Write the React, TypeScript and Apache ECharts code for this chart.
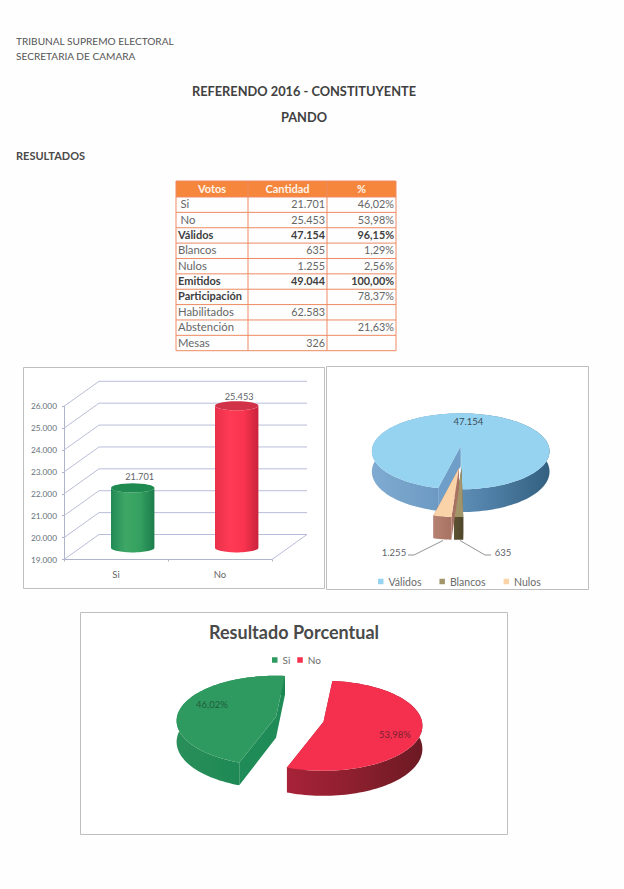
import React, { useEffect, useRef } from "react";
import * as echarts from "echarts";

const FONT = "Lato";

// ---- table data
const tableHeader = ["Votos", "Cantidad", "%"];
const tableLabels = ["Si", "No", "Válidos", "Blancos", "Nulos", "Emitidos", "Participación", "Habilitados", "Abstención", "Mesas"];
const tableCounts = ["21.701", "25.453", "47.154", "635", "1.255", "49.044", "", "62.583", "", "326"];
const tablePercents = ["46,02%", "53,98%", "96,15%", "1,29%", "2,56%", "100,00%", "78,37%", "", "21,63%", ""];
const boldLabels = ["Válidos", "Emitidos", "Participación"];
const boldNumbers = ["Válidos", "Emitidos"];

// ---- bar chart data
const barCategories = ["Si", "No"];
const barValues = [21701, 25453];
const barTicks = [19000, 20000, 21000, 22000, 23000, 24000, 25000, 26000];

// ---- vote pie data
const voteNames = ["Válidos", "Blancos", "Nulos"];
const voteValues = [47154, 635, 1255];

// ---- percent pie data
const resultNames = ["Si", "No"];
const resultPercents = [46.02, 53.98];

const dotted = (v: number) => String(v).replace(/\B(?=(\d{3})+$)/g, ".");

type Face = { cx: number; cy: number; rx: number; ry: number; p: number; depth: number };
type Paint = { top: string; wall: string[]; radial: string };

const pt = (f: Face, deg: number): [number, number] => {
  const r = (deg * Math.PI) / 180;
  const k = 1 - f.p * Math.cos(r);
  return [f.cx + f.rx * Math.sin(r) * k, f.cy - f.ry * Math.cos(r) * k];
};
const down = (f: Face, deg: number, q: [number, number]): [number, number] => {
  const r = (deg * Math.PI) / 180;
  return [q[0], q[1] + f.depth * (1 - f.p * Math.cos(r))];
};

function sliceShapes(f: Face, start: number, sweep: number, paint: Paint) {
  const steps = Math.max(6, Math.ceil(sweep / 2));
  const angles: number[] = [];
  for (let i = 0; i <= steps; i++) angles.push(start + (sweep * i) / steps);
  const rim = angles.map((a) => pt(f, a));
  const rimLow = angles.map((a, i) => down(f, a, rim[i]));
  const apex: [number, number] = [f.cx, f.cy];
  const apexLow: [number, number] = [f.cx, f.cy + f.depth];
  const wallFill = new echarts.graphic.LinearGradient(
    0, 0, 1, 0,
    paint.wall.map((c, i) => ({ offset: i / (paint.wall.length - 1), color: c }))
  );
  const poly = (points: number[][], fill: any) => ({
    type: "polygon",
    shape: { points },
    style: { fill, stroke: "none" },
  });
  return [
    poly([apex, rim[0], rimLow[0], apexLow], paint.radial),
    poly([apex, rim[steps], rimLow[steps], apexLow], paint.radial),
    poly([...rim, ...rimLow.slice().reverse()], wallFill),
    poly([apex, ...rim], paint.top),
  ];
}

function pieSeries(
  name: string,
  value: number,
  face: Face,
  start: number,
  sweep: number,
  paint: Paint,
  extras: any[]
) {
  return {
    type: "custom",
    name,
    coordinateSystem: "none",
    silent: true,
    itemStyle: { color: paint.top },
    data: [[value]],
    renderItem: () => ({
      type: "group",
      children: [...sliceShapes(face, start, sweep, paint), ...extras],
    }),
  };
}

const label = (text: string, x: number, y: number, fill: string, size: number, align = "center") => ({
  type: "text",
  x,
  y,
  style: { text, fill, font: `${size}px ${FONT}`, align, verticalAlign: "middle" },
});

function cylinderRender(colors: { side: string[]; top: string }, labelDx: number, labelDy: number) {
  return (_params: any, api: any) => {
    const value = api.value(1);
    const idx = api.value(0);
    const depthX = 16.7;
    const depthY = -12.5;
    const halfW = 21.7;
    const ry = 4.6;
    const topC = api.coord([idx, value]);
    const baseC = api.coord([idx, barTicks[0]]);
    const cx = topC[0] + depthX;
    const ty = topC[1] + depthY;
    const by = baseC[1] + depthY + 0.8;
    const arc = (yc: number, from: number, to: number) => {
      const out: number[][] = [];
      for (let i = 0; i <= 32; i++) {
        const a = ((from + ((to - from) * i) / 32) * Math.PI) / 180;
        out.push([cx + halfW * Math.cos(a), yc + ry * Math.sin(a)]);
      }
      return out;
    };
    const sideFill = new echarts.graphic.LinearGradient(
      0, 0, 1, 0,
      colors.side.map((c, i) => ({ offset: i / (colors.side.length - 1), color: c }))
    );
    return {
      type: "group",
      children: [
        {
          type: "polygon",
          shape: { points: [...arc(ty, 180, 0), ...arc(by, 0, 180)] },
          style: { fill: sideFill },
        },
        { type: "polygon", shape: { points: arc(ty, 0, 360) }, style: { fill: colors.top } },
        {
          type: "text",
          x: cx + labelDx,
          y: ty + labelDy,
          style: {
            text: dotted(value),
            fill: "#5f6368",
            font: `9.2px ${FONT}`,
            align: "center",
            verticalAlign: "middle",
          },
        },
      ],
    };
  };
}

function buildGraphic() {
  const els: any[] = [];
  const pageText = (text: string, x: number, y: number, size: number, weight: string, fill: string, align = "left") =>
    els.push({
      type: "text",
      x,
      y,
      style: { text, fill, font: `${weight} ${size}px ${FONT}`, align, verticalAlign: "middle" },
    });
  pageText("TRIBUNAL SUPREMO ELECTORAL", 16, 41, 10.1, "normal", "#555");
  pageText("SECRETARIA DE CAMARA", 16, 56, 10.1, "normal", "#555");
  pageText("REFERENDO 2016 - CONSTITUYENTE", 304, 91, 12.8, "bold", "#404040", "center");
  pageText("PANDO", 304, 117, 12.8, "bold", "#404040", "center");
  pageText("RESULTADOS", 16, 155, 11, "bold", "#4a4a4a");

  const frame = (x: number, y: number, w: number, h: number) =>
    els.push({
      type: "rect",
      shape: { x, y, width: w, height: h },
      style: { fill: "#fff", stroke: "#bfbfbf", lineWidth: 1 },
      z: -10,
    });
  frame(23.5, 367.5, 301, 221);
  frame(326.5, 366.5, 262, 223);
  frame(80.5, 612.5, 427, 222);

  // table
  const cols = [176, 248, 327, 396];
  const top = 181;
  const headBottom = 197;
  const rowH = 15.37;
  const bottom = headBottom + rowH * tableLabels.length;
  els.push({
    type: "rect",
    shape: { x: cols[0], y: top, width: cols[3] - cols[0], height: headBottom - top },
    style: { fill: "#f5863c" },
  });
  const rule = "#ee8a62";
  cols.forEach((x) =>
    els.push({ type: "line", shape: { x1: x, y1: top, x2: x, y2: bottom }, style: { stroke: rule, lineWidth: 1 } })
  );
  els.push({ type: "line", shape: { x1: cols[0], y1: top, x2: cols[3], y2: top }, style: { stroke: rule, lineWidth: 1 } });
  for (let i = 0; i <= tableLabels.length; i++) {
    const y = headBottom + rowH * i;
    els.push({ type: "line", shape: { x1: cols[0], y1: y, x2: cols[3], y2: y }, style: { stroke: rule, lineWidth: 1 } });
  }
  tableHeader.forEach((h, i) =>
    pageText(h, (cols[i] + cols[i + 1]) / 2, (top + headBottom) / 2 - 1, 11, "bold", "#fff4ea", "center")
  );
  tableLabels.forEach((name, i) => {
    const y = headBottom + rowH * (i + 0.5) - 1;
    const boldLabel = boldLabels.includes(name);
    const boldNumber = boldNumbers.includes(name);
    pageText(name, i < 2 ? 180.5 : 178, y, boldLabel ? 11 : 11.3, boldLabel ? "bold" : "normal", boldLabel ? "#3f3f3f" : "#666");
    const w = boldNumber ? "bold" : "normal";
    const c = boldNumber ? "#3f3f3f" : "#666";
    if (tableCounts[i]) pageText(tableCounts[i], 325, y, 10.8, w, c, "right");
    if (tablePercents[i]) pageText(tablePercents[i], 394, y, 10.8, w, c, "right");
  });
  pageText("Resultado Porcentual", 294, 632, 18, "bold", "#4a4a4a", "center");
  return els;
}

export default function App() {
  const ref = useRef<HTMLDivElement>(null);
  useEffect(() => {
    document.body.style.margin = "0";
    const chart = echarts.init(ref.current!, undefined, { renderer: "svg" });

    // vote pie
    const voteTotal = voteValues.reduce((a, b) => a + b, 0);
    const voteStart = 193;
    const voteSweeps = voteValues.map((v) => (v / voteTotal) * 360);
    const voteFaces: Face[] = [
      { cx: 460.7, cy: 446, rx: 88, ry: 38, p: 0.14, depth: 20 },
      { cx: 461.5, cy: 468, rx: 100, ry: 43, p: 0.14, depth: 20 },
      { cx: 459, cy: 468, rx: 100, ry: 43, p: 0.14, depth: 20 },
    ];
    const votePaints: Paint[] = [
      { top: "#95d3f0", wall: ["#7fabd2", "#6f9cc4", "#4f7fa6", "#33607f"], radial: "#6f9fc9" },
      { top: "#a2956a", wall: ["#5d5233", "#4f462b"], radial: "#4f462b" },
      { top: "#fbd3a9", wall: ["#b58272", "#a87262"], radial: "#a87262" },
    ];
    const voteExtras: any[][] = [
      [label(dotted(voteValues[0]), 468.3, 421, "#3c4c58", 9.5)],
      [
        { type: "polyline", shape: { points: [[491, 555], [485, 555], [460, 540.5]] }, style: { stroke: "#777", fill: "none", lineWidth: 0.8 } },
        label(dotted(voteValues[1]), 503, 552, "#5f6368", 9.5),
      ],
      [
        { type: "polyline", shape: { points: [[408, 555], [414, 555], [443, 540.5]] }, style: { stroke: "#777", fill: "none", lineWidth: 0.8 } },
        label(dotted(voteValues[2]), 394, 552, "#5f6368", 9.5),
      ],
    ];
    let voteAngle = voteStart;
    const voteSeries = voteNames.map((n, i) => {
      const s = pieSeries(n, voteValues[i], voteFaces[i], voteAngle, voteSweeps[i], votePaints[i], voteExtras[i]);
      voteAngle += voteSweeps[i];
      return s;
    });

    // percent pie
    const resultTotal = resultPercents.reduce((a, b) => a + b, 0);
    const resultFaces: Face[] = [
      { cx: 276, cy: 716.7, rx: 99, ry: 45, p: 0.09, depth: 21 },
      { cx: 323.5, cy: 721.7, rx: 98.5, ry: 45, p: 0.09, depth: 23 },
    ];
    const resultPaints: Paint[] = [
      { top: "#2f9a60", wall: ["#2a8f5a", "#1f8a55", "#1a8550"], radial: "#1f8b56" },
      { top: "#f5304e", wall: ["#a82238", "#8c1f2e", "#6c1a24"], radial: "#a82238" },
    ];
    const pct = (v: number) => v.toFixed(2).replace(".", ",") + "%";
    const resultExtras: any[][] = [
      [label(pct(resultPercents[0]), 212, 704, "#1f5c3e", 9.5)],
      [label(pct(resultPercents[1]), 395, 734, "#7a2030", 9.5)],
    ];
    let resultAngle = 200;
    const resultSeries = resultNames.map((n, i) => {
      const sweep = (resultPercents[i] / resultTotal) * 360;
      const s = pieSeries(n, resultPercents[i], resultFaces[i], resultAngle, sweep, resultPaints[i], resultExtras[i]);
      resultAngle += sweep;
      return s;
    });

    const wallColor = "#b9bdd9";
    const option: any = {
      animation: false,
      backgroundColor: "#fefefe",
      textStyle: { fontFamily: FONT },
      graphic: { elements: buildGraphic() },
      grid: { left: 64, top: 406.3, width: 208, height: 153.2, containLabel: false },
      xAxis: {
        type: "category",
        data: barCategories,
        axisLine: { lineStyle: { color: "#b0b4c8" } },
        axisTick: { show: true, length: 2, lineStyle: { color: "#b0b4c8" } },
        axisLabel: { color: "#666", fontSize: 9.5, margin: 10, fontFamily: FONT },
      },
      yAxis: {
        type: "value",
        min: 19000,
        max: 26000,
        interval: 1000,
        axisLine: { show: true, lineStyle: { color: "#b0b4c8" } },
        axisTick: { show: true, length: 2, lineStyle: { color: "#b0b4c8" } },
        splitLine: { show: false },
        axisLabel: { color: "#66707a", fontSize: 8.3, margin: 7, fontFamily: FONT, formatter: (v: number) => dotted(v) },
      },
      legend: [
        {
          data: voteNames,
          left: 378,
          top: 576,
          padding: 0,
          itemWidth: 5.5,
          itemHeight: 5.5,
          itemGap: 18,
          icon: "rect",
          textStyle: { color: "#6a6a6a", fontSize: 10.5, fontFamily: FONT },
          selectedMode: false,
        },
        {
          data: resultNames,
          left: 272,
          top: 655,
          padding: 0,
          itemWidth: 5.5,
          itemHeight: 5.5,
          itemGap: 7,
          icon: "rect",
          textStyle: { color: "#6a6a6a", fontSize: 10, fontFamily: FONT },
          selectedMode: false,
        },
      ],
      series: [
        {
          type: "custom",
          name: "walls",
          silent: true,
          z: 1,
          data: barTicks.map((t) => [0, t]),
          renderItem: (params: any, api: any) => {
            const y = api.coord([0, api.value(1)])[1];
            const { x, width } = params.coordSys;
            const dx = 35;
            const dy = -25;
            const isBase = api.value(1) === barTicks[0];
            const pts = [[x, y], [x + dx, y + dy], [x + width + dx, y + dy]];
            if (isBase) pts.push([x + width, y]);
            return {
              type: "polyline",
              shape: { points: pts },
              style: { stroke: wallColor, fill: "none", lineWidth: 1 },
            };
          },
        },
        {
          type: "custom",
          name: "Votos " + barCategories[0],
          silent: true,
          z: 3,
          data: [[0, barValues[0]]],
          renderItem: cylinderRender({ side: ["#1f8a55", "#3fa766", "#34a05f", "#1b7d4c"], top: "#1e8a50" }, 7, -11.5),
        },
        {
          type: "custom",
          name: "Votos " + barCategories[1],
          silent: true,
          z: 3,
          data: [[1, barValues[1]]],
          renderItem: cylinderRender({ side: ["#e8304a", "#ff3a55", "#f9344f", "#c9243c"], top: "#d23248" }, 2.5, -9),
        },
        ...voteSeries,
        ...resultSeries,
      ],
    };
    chart.setOption(option);
    return () => chart.dispose();
  }, []);
  return <div ref={ref} style={{ position: "absolute", left: 0, top: 0, width: 624, height: 889 }} />;
}
